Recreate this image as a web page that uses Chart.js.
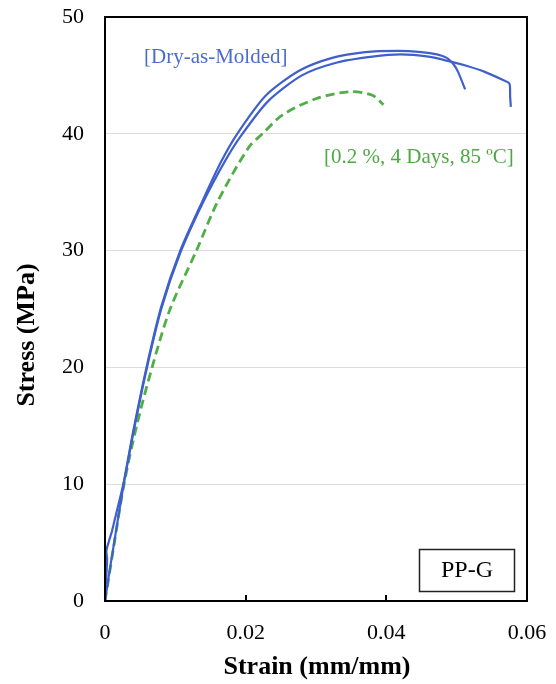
<!DOCTYPE html>
<html>
<head>
<meta charset="utf-8">
<script src="https://cdn.jsdelivr.net/npm/chart.js@4.4.1/dist/chart.umd.min.js"></script>
<style>
  html, body { margin:0; padding:0; background:#fff; }
  #wrap { width:556px; height:684px; position:relative; }
</style>
</head>
<body>
<div id="wrap"><canvas id="chart" width="556" height="684"></canvas></div>
<script>
// --- Data (strain mm/mm, stress MPa) ---
const dryA_strain = [0, 0.0003, 0.0002, 0.0006, 0.0010, 0.0016, 0.0026, 0.0040, 0.0059, 0.0080, 0.0107, 0.0139, 0.0165, 0.0188, 0.0229, 0.0276, 0.0323, 0.0370, 0.0417, 0.0450, 0.0472, 0.0486, 0.0495, 0.0502, 0.0512];
const dryA_stress = [0, 3.6, 4.3, 5.2, 6.0, 7.5, 10.0, 14.5, 20.0, 25.2, 30.0, 34.3, 37.6, 40.0, 43.3, 45.4, 46.5, 47.0, 47.1, 47.0, 46.8, 46.5, 46.0, 45.3, 43.8];

const dryB_strain = [0, 0.0005, 0.0013, 0.0026, 0.0040, 0.0059, 0.0080, 0.0107, 0.0140, 0.0170, 0.0193, 0.0232, 0.0280, 0.0330, 0.0380, 0.0420, 0.0460, 0.0490, 0.0515, 0.0540, 0.0566, 0.0575, 0.0576, 0.0577];
const dryB_stress = [0, 2.0, 5.0, 9.8, 14.3, 19.8, 25.0, 29.8, 34.2, 37.6, 39.8, 42.8, 45.0, 46.1, 46.6, 46.8, 46.6, 46.2, 45.8, 45.3, 44.6, 44.3, 43.2, 42.3];

const cond_strain = [0, 0.0012, 0.0027, 0.0045, 0.0066, 0.0092, 0.0130, 0.0161, 0.0205, 0.0224, 0.0252, 0.0300, 0.0347, 0.0380, 0.0396];
const cond_stress = [0, 4.5, 10.0, 15.0, 19.8, 24.9, 30.0, 34.3, 38.9, 40.0, 41.6, 43.0, 43.6, 43.3, 42.5];

const xTicks = [0, 0.02, 0.04, 0.06];
const yTicks = [0, 10, 20, 30, 40, 50];

const BLUE = '#3f5fcb';
const GREEN = '#4fae45';
const FONT = '"Liberation Serif", "Times New Roman", serif';

const pts = (xs, ys) => xs.map((x, i) => ({ x, y: ys[i] }));

// --- Frame, inner ticks, titles and labels ---
const decor = {
  id: 'decor',
  afterDraw(chart) {
    const { ctx, chartArea: a, scales } = chart;
    ctx.save();
    // inward x ticks
    ctx.strokeStyle = '#000';
    ctx.lineWidth = 2;
    xTicks.slice(1, -1).forEach(v => {
      const px = Math.round(scales.x.getPixelForValue(v));
      ctx.beginPath(); ctx.moveTo(px, a.bottom); ctx.lineTo(px, a.bottom - 6); ctx.stroke();
    });
    // plot frame
    ctx.strokeRect(a.left, a.top, a.right - a.left, a.bottom - a.top);

    // axis titles
    ctx.fillStyle = '#000';
    ctx.font = 'bold 26px ' + FONT;
    ctx.textAlign = 'center';
    ctx.textBaseline = 'middle';
    ctx.fillText('Strain (mm/mm)', 317, 667);
    ctx.save();
    ctx.translate(27, 335);
    ctx.rotate(-Math.PI / 2);
    ctx.fillText('Stress (MPa)', 0, 0);
    ctx.restore();

    // series labels
    ctx.font = '21px ' + FONT;
    ctx.textAlign = 'left';
    ctx.fillStyle = '#4a6bd0';
    ctx.fillText('[Dry-as-Molded]', 144, 57);
    ctx.fillStyle = '#4ea843';
    ctx.fillText('[0.2 %, 4 Days, 85 ºC]', 324, 157);

    // PP-G box
    ctx.fillStyle = '#fff';
    ctx.fillRect(419, 549, 95, 42);
    ctx.strokeStyle = '#222';
    ctx.lineWidth = 1.5;
    ctx.strokeRect(419.5, 549.5, 95, 42);
    ctx.fillStyle = '#000';
    ctx.font = '24px ' + FONT;
    ctx.textAlign = 'center';
    ctx.fillText('PP-G', 467, 571);
    ctx.restore();
  }
};

new Chart(document.getElementById('chart'), {
  type: 'scatter',
  data: {
    datasets: [
      { label: 'Dry A', data: pts(dryA_strain, dryA_stress), showLine: true, borderColor: BLUE, borderWidth: 2.2, pointRadius: 0, tension: 0.25, order: 0 },
      { label: 'Dry B', data: pts(dryB_strain, dryB_stress), showLine: true, borderColor: BLUE, borderWidth: 2.2, pointRadius: 0, tension: 0.25, order: 0 },
      { label: 'Conditioned', data: pts(cond_strain, cond_stress), showLine: true, borderColor: GREEN, borderWidth: 2.8, borderDash: [9, 5], pointRadius: 0, tension: 0.3, order: 1 },
    ]
  },
  options: {
    responsive: false,
    animation: false,
    events: [],
    layout: { padding: { left: 0, top: 17, right: 29, bottom: 0 } },
    plugins: { legend: { display: false }, tooltip: { enabled: false } },
    scales: {
      x: {
        type: 'linear', min: 0, max: 0.06,
        afterBuildTicks: (s) => { s.ticks = xTicks.map(v => ({ value: v })); },
        afterFit: (s) => { s.height = 83; s.paddingLeft = 0; s.paddingRight = 0; },
        grid: { display: false, drawTicks: false },
        border: { display: false },
        ticks: { color: '#000', padding: 19, font: { family: FONT, size: 22 }, callback: (v) => String(v) },
      },
      y: {
        min: 0, max: 50,
        afterBuildTicks: (s) => { s.ticks = yTicks.map(v => ({ value: v })); },
        afterFit: (s) => { s.width = 105; s.paddingTop = 0; s.paddingBottom = 0; },
        grid: { color: '#dcdcdc', lineWidth: 1, drawTicks: false },
        border: { display: false },
        ticks: { color: '#000', padding: 21, font: { family: FONT, size: 22 } },
      }
    }
  },
  plugins: [decor]
});
</script>
</body>
</html>
